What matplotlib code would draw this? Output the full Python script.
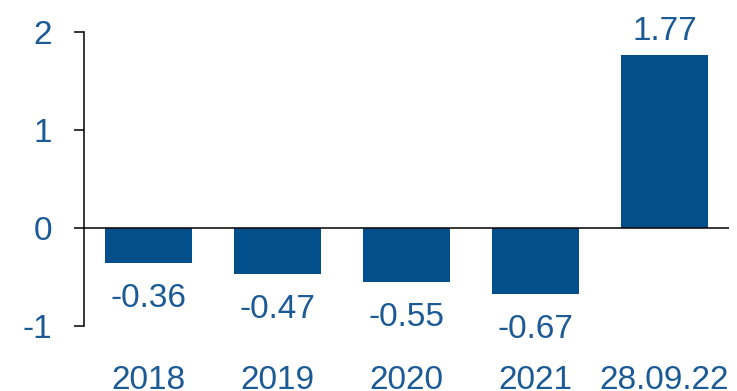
import matplotlib
matplotlib.use("Agg")
import matplotlib.pyplot as plt

BAR = "#034F8B"
TXT = "#1B5A95"

categories = ["2018", "2019", "2020", "2021", "28.09.22"]
values = [-0.36, -0.47, -0.55, -0.67, 1.77]
yticks = [-1, 0, 1, 2]

plt.rcParams["font.family"] = ["Liberation Sans", "DejaVu Sans"]

fig = plt.figure(figsize=(7.37, 3.91), dpi=100)
ax = fig.add_axes([0.114, 0.166, 0.875, 0.752])

x = list(range(len(categories)))
bars = ax.bar(x, values, width=0.67, color=BAR, zorder=2)
ax.axhline(0, color="black", lw=1.1, zorder=3)

for xi, v in zip(x, values):
    if v >= 0:
        ax.annotate(f"{v:.2f}", (xi, v), xytext=(0, 10.8), textcoords="offset points",
                    ha="center", va="baseline", fontsize=24, color=TXT)
    else:
        ax.annotate(f"{v:.2f}", (xi, v), xytext=(0, -14.4), textcoords="offset points",
                    ha="center", va="top", fontsize=24, color=TXT)

ax.set_xlim(-0.5, 4.5)
ax.set_ylim(-1, 2)
ax.set_yticks(yticks)
ax.set_yticklabels([str(t) for t in yticks])
ax.set_xticks(x)
ax.set_xticklabels(categories)

for s in ["top", "right", "bottom"]:
    ax.spines[s].set_visible(False)
ax.spines["left"].set_bounds(-1, 2)
ax.spines["left"].set_linewidth(1.1)

ax.tick_params(axis="y", direction="out", length=7.2, width=1.1, color="black",
               pad=16, labelsize=24, labelcolor=TXT)
ax.tick_params(axis="x", length=0, pad=28, labelsize=24, labelcolor=TXT)

fig.savefig("out.png", dpi=100, facecolor="white")
